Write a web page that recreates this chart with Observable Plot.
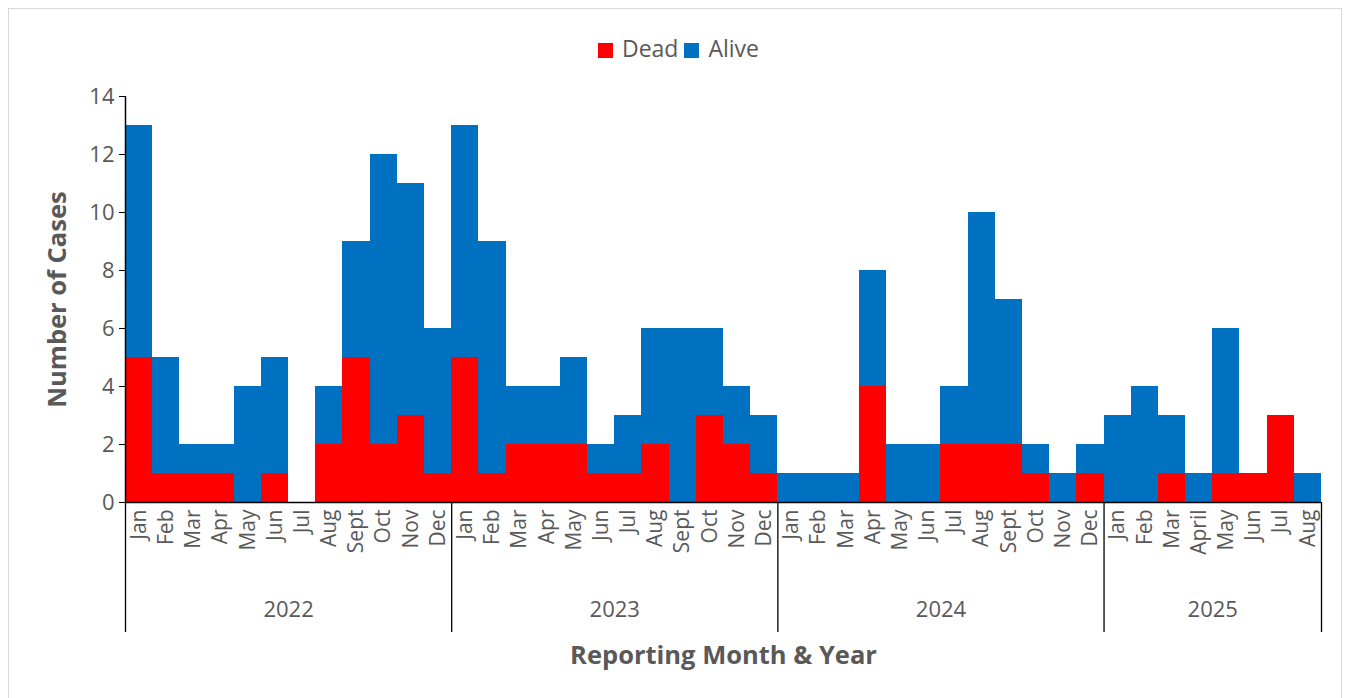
<!DOCTYPE html>
<html>
<head>
<meta charset="utf-8">
<script src="https://cdn.jsdelivr.net/npm/d3@7"></script>
<script src="https://cdn.jsdelivr.net/npm/@observablehq/plot@0.6"></script>
<style>
  html, body { margin: 0; padding: 0; background: #fff; }
  body { width: 1351px; height: 698px; position: relative; overflow: hidden; font-family: "Open Sans", sans-serif; }
  #frame { position: absolute; left: 8px; top: 8px; width: 1334px; height: 720px; border: 1px solid #d9d9d9; box-sizing: border-box; }
  #legend { position: absolute; top: 32px; left: 0; width: 1357px; text-align: center; font-size: 23px; color: #595959; }
  #legend span.sw { display: inline-block; width: 15px; height: 15px; margin-right: 9px; vertical-align: -1px; }
  #legend span.item { margin: 0 3px; }
  #chart { position: absolute; left: 0; top: 70px; }
</style>
</head>
<body>
<div id="frame"></div>
<div id="legend"></div>
<div id="chart"></div>
<script>
// ---- data ----
const years = ["2022", "2023", "2024", "2025"];
const monthsPerYear = [
  ["Jan","Feb","Mar","Apr","May","Jun","Jul","Aug","Sept","Oct","Nov","Dec"],
  ["Jan","Feb","Mar","Apr","May","Jun","Jul","Aug","Sept","Oct","Nov","Dec"],
  ["Jan","Feb","Mar","Apr","May","Jun","Jul","Aug","Sept","Oct","Nov","Dec"],
  ["Jan","Feb","Mar","April","May","Jun","Jul","Aug"]
];
const dead = [
  5,1,1,1,0,1,0,2,5,2,3,1,
  5,1,2,2,2,1,1,2,0,3,2,1,
  0,0,0,4,0,0,2,2,2,1,0,1,
  0,0,1,0,1,1,3,0
];
const alive = [
  8,4,1,1,4,4,0,2,4,10,8,5,
  8,8,2,2,3,1,2,4,6,3,2,2,
  1,1,1,4,2,2,2,8,5,1,1,1,
  3,4,2,1,5,0,0,1
];
const statuses = ["Dead", "Alive"];
const statusColors = ["#FF0000", "#0070C0"];
const yTicks = [0, 2, 4, 6, 8, 10, 12, 14];

// ---- build table ----
const months = monthsPerYear.flat();
const n = months.length;
const rows = [];
months.forEach((m, i) => {
  rows.push({i, status: "Dead", value: dead[i]});
  rows.push({i, status: "Alive", value: alive[i]});
});
const boundaries = [0];
monthsPerYear.forEach(ms => boundaries.push(boundaries[boundaries.length - 1] + ms.length));
const yearCenters = years.map((y, k) => (boundaries[k] + boundaries[k + 1]) / 2);
const monthCenters = months.map((m, i) => i + 0.5);

// ---- legend ----
const legend = document.getElementById("legend");
statuses.forEach((s, k) => {
  const item = document.createElement("span");
  item.className = "item";
  item.innerHTML = `<span class="sw" style="background:${statusColors[k]}"></span>${s}`;
  legend.appendChild(item);
});

// ---- chart ----
const chart = Plot.plot({
  width: 1351,
  height: 620,
  marginLeft: 125,
  marginRight: 30,
  marginTop: 26,
  marginBottom: 188,
  style: { fontFamily: "Open Sans, sans-serif", fontSize: "20px", color: "#595959", background: "transparent" },
  x: { type: "linear", domain: [0, n] },
  y: { domain: [0, 14] },
  color: { domain: statuses, range: statusColors },
  marks: [
    Plot.rectY(rows, {
      x1: "i",
      x2: d => d.i + 1,
      y: "value",
      fill: "status",
      order: statuses,
      shapeRendering: "crispEdges"
    }),
    Plot.axisY(yTicks, {
      tickSize: 6,
      tickPadding: 5,
      stroke: "black",
      fill: "#595959",
      fontSize: 22,
      label: null
    }),
    Plot.ruleX([0], { y1: 0, y2: 14, stroke: "black", strokeWidth: 1.5 }),
    Plot.ruleY([0], { stroke: "black", strokeWidth: 1.5 }),
    Plot.axisX(monthCenters, {
      tickSize: 0,
      tickPadding: 7,
      tickRotate: -90,
      tickFormat: d => months[Math.floor(d)],
      fill: "#595959",
      fontSize: 21,
      label: null
    }),
    Plot.axisX(boundaries, {
      tickSize: 130,
      stroke: "black",
      strokeWidth: 1.3,
      tickFormat: () => "",
      label: null
    }),
    Plot.axisX(yearCenters, {
      tickSize: 0,
      tickPadding: 99,
      tickFormat: d => years[yearCenters.indexOf(d)],
      fill: "#595959",
      fontSize: 22,
      label: null
    }),
    Plot.text(["Number of Cases"], {
      frameAnchor: "left",
      textAnchor: "middle",
      lineAnchor: "middle",
      dx: -68,
      rotate: -90,
      fontSize: 25.5,
      fontWeight: "bold",
      fill: "#595959"
    }),
    Plot.text(["Reporting Month & Year"], {
      frameAnchor: "bottom",
      textAnchor: "middle",
      lineAnchor: "middle",
      dy: 153,
      fontSize: 25.5,
      fontWeight: "bold",
      fill: "#595959"
    })
  ]
});
document.getElementById("chart").appendChild(chart);
</script>
</body>
</html>
